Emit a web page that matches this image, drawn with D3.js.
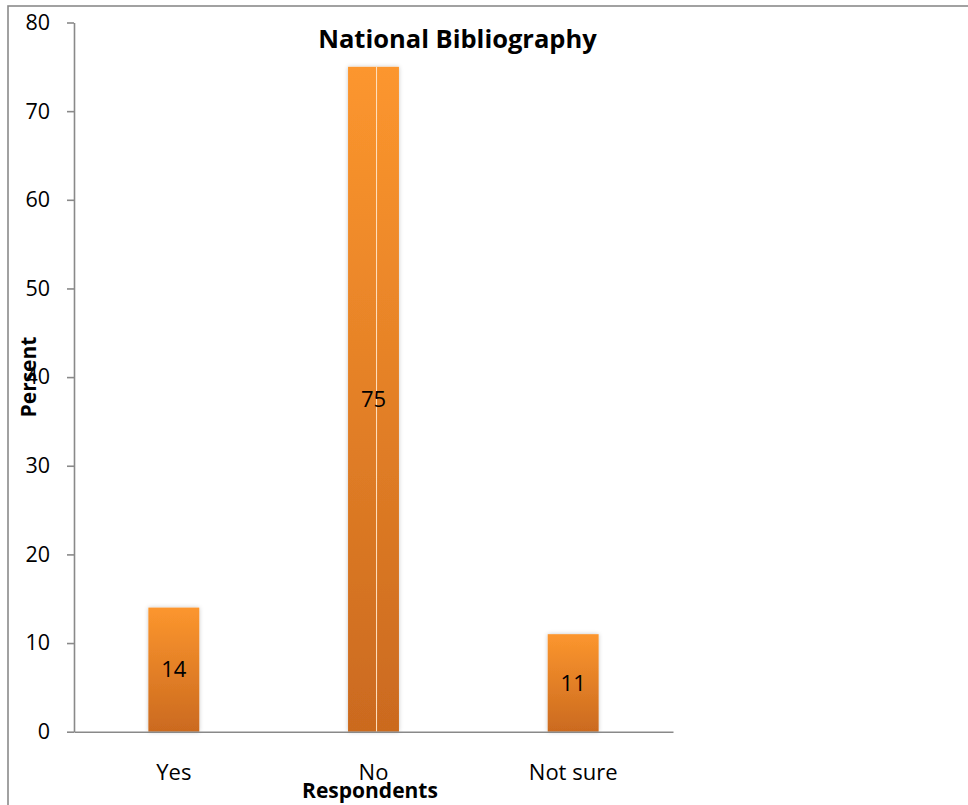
<!DOCTYPE html>
<html>
<head>
<meta charset="utf-8">
<script src="https://cdn.jsdelivr.net/npm/d3@7"></script>
<style>
  html, body { margin: 0; padding: 0; background: #fff; }
  svg { display: block; font-family: "Open Sans", "Noto Sans", sans-serif; }
</style>
</head>
<body>
<svg id="chart" width="968" height="805"></svg>
<script>
// Survey answers on use of the national bibliography (percent of respondents)
const categories = ["Yes", "No", "Not sure"];
const percents = [14, 75, 11];
const yTicks = [0, 10, 20, 30, 40, 50, 60, 70, 80];

const svg = d3.select("#chart");
const W = 968, H = 805;
const plot = { left: 74, right: 673, top: 22.5, bottom: 731.7 };

// Outer frame of the chart
svg.append("rect")
  .attr("x", 8).attr("y", 6)
  .attr("width", W + 20).attr("height", H + 20)
  .attr("fill", "none").attr("stroke", "#8a8a8a").attr("stroke-width", 1.6);

const defs = svg.append("defs");
const grad = defs.append("linearGradient")
  .attr("id", "barFill").attr("x1", 0).attr("y1", 0).attr("x2", 0).attr("y2", 1);
grad.append("stop").attr("offset", "0%").attr("stop-color", "#fc962e");
grad.append("stop").attr("offset", "100%").attr("stop-color", "#cb6a1f");

const shadow = defs.append("filter").attr("id", "barShadow")
  .attr("x", "-30%").attr("y", "-5%").attr("width", "160%").attr("height", "110%");
shadow.append("feDropShadow")
  .attr("dx", 0).attr("dy", 0).attr("stdDeviation", 2)
  .attr("flood-color", "#000").attr("flood-opacity", 0.22);

const x = d3.scaleBand().domain(categories).range([plot.left, plot.right]).padding(0);
const y = d3.scaleLinear().domain([0, 80]).range([plot.bottom, plot.top]);
const barW = x.bandwidth() * 0.255;

// Bars
const bars = svg.append("g");
bars.selectAll("rect")
  .data(categories)
  .join("rect")
  .attr("x", (d) => x(d) + x.bandwidth() / 2 - barW / 2)
  .attr("y", (d, i) => y(percents[i]))
  .attr("width", barW)
  .attr("height", (d, i) => y(0) - y(percents[i]))
  .attr("fill", "url(#barFill)")
  .attr("filter", "url(#barShadow)");

// Thin light seam inside the tallest bar
const iMax = d3.maxIndex(percents);
const seamX = x(categories[iMax]) + x.bandwidth() / 2 - barW / 2 + barW * 0.56;
svg.append("line")
  .attr("x1", seamX).attr("x2", seamX)
  .attr("y1", y(percents[iMax])).attr("y2", y(0))
  .attr("stroke", "#ffe2c4").attr("stroke-width", 1);

// Value labels centred in the bars
svg.append("g").selectAll("text")
  .data(categories)
  .join("text")
  .attr("x", (d) => x(d) + x.bandwidth() / 2)
  .attr("y", (d, i) => y(percents[i] / 2))
  .attr("dy", "0.35em")
  .attr("text-anchor", "middle")
  .attr("font-size", 22)
  .attr("fill", "#000")
  .text((d, i) => percents[i]);

// Y axis
const yAxis = svg.append("g")
  .attr("transform", `translate(${plot.left},0)`)
  .call(d3.axisLeft(y).tickValues(yTicks).tickSize(7).tickPadding(17).tickSizeOuter(0));
yAxis.select(".domain").attr("stroke", "#898989").attr("stroke-width", 1.6);
yAxis.selectAll(".tick line").attr("stroke", "#898989").attr("stroke-width", 1.6);
yAxis.selectAll(".tick text").attr("font-size", 21.5).attr("fill", "#000")
  .attr("font-family", "\"Open Sans\", sans-serif");

// X axis
const xAxis = svg.append("g")
  .attr("transform", `translate(0,${plot.bottom})`)
  .call(d3.axisBottom(x).tickSize(0).tickPadding(33));
xAxis.select(".domain").attr("stroke", "#898989").attr("stroke-width", 1.6);
xAxis.selectAll(".tick text").attr("font-size", 22).attr("fill", "#000")
  .attr("font-family", "\"Open Sans\", sans-serif");

// Titles
svg.append("text")
  .attr("x", 457.5).attr("y", 48)
  .attr("text-anchor", "middle")
  .attr("font-size", 25.5).attr("font-weight", "bold")
  .text("National Bibliography");

svg.append("text")
  .attr("transform", "translate(36,377) rotate(-90)")
  .attr("text-anchor", "middle")
  .attr("font-size", 21).attr("font-weight", "bold")
  .text("Persent");

svg.append("text")
  .attr("x", 370).attr("y", 798)
  .attr("text-anchor", "middle")
  .attr("font-size", 21).attr("font-weight", "bold")
  .text("Respondents");
</script>
</body>
</html>
